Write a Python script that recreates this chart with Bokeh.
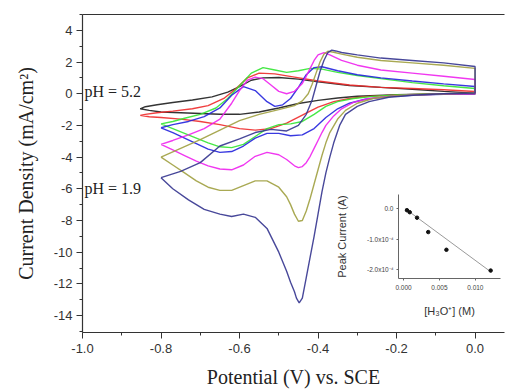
from bokeh.plotting import figure
from bokeh.models import Range1d, LinearAxis, FixedTicker, PrintfTickFormatter, CustomJSTickFormatter
from bokeh.layouts import column
from bokeh.embed import file_html
from bokeh.resources import INLINE
from bokeh.core.properties import value

# ---------------- data ----------------
# each cyclic voltammogram: lower branch (left -> right) then upper branch (right -> left)
black_v = [-0.853, -0.83, -0.80, -0.75, -0.70, -0.65, -0.60, -0.55, -0.50, -0.45, -0.40, -0.35, -0.30, -0.20, -0.10, 0.0,
           0.0, -0.08, -0.16, -0.24, -0.32, -0.40, -0.45, -0.50, -0.54, -0.57, -0.60, -0.63, -0.67, -0.72, -0.77, -0.81, -0.84, -0.853]
black_i = [-0.95, -1.05, -1.15, -1.2, -1.25, -1.3, -1.3, -1.15, -0.9, -0.62, -0.42, -0.27, -0.16, -0.06, -0.01, 0.0,
           0.04, 0.15, 0.28, 0.4, 0.52, 0.75, 0.92, 1.02, 1.0, 0.85, 0.45, 0.1, -0.2, -0.4, -0.55, -0.7, -0.82, -0.95]

red_v = [-0.853, -0.83, -0.80, -0.75, -0.70, -0.65, -0.60, -0.56, -0.52, -0.48, -0.44, -0.40, -0.36, -0.32, -0.28, -0.20, -0.10, 0.0,
         0.0, -0.08, -0.16, -0.24, -0.32, -0.40, -0.46, -0.51, -0.55, -0.58, -0.61, -0.64, -0.68, -0.72, -0.77, -0.81, -0.84, -0.853]
red_i = [-1.37, -1.45, -1.5, -1.6, -1.75, -1.95, -2.2, -2.3, -2.2, -1.85, -1.35, -0.85, -0.5, -0.3, -0.18, -0.07, -0.02, 0.0,
         0.14, 0.25, 0.33, 0.4, 0.55, 0.8, 1.05, 1.25, 1.3, 1.0, 0.3, -0.3, -0.75, -0.95, -1.1, -1.2, -1.3, -1.37]

green_v = [-0.80, -0.77, -0.74, -0.71, -0.68, -0.65, -0.62, -0.59, -0.56, -0.53, -0.50, -0.47, -0.44, -0.41, -0.38, -0.35, -0.31, -0.26, -0.20, -0.10, 0.0,
           0.0, -0.08, -0.16, -0.24, -0.30, -0.35, -0.39, -0.42, -0.45, -0.48, -0.51, -0.54, -0.57, -0.60, -0.63, -0.66, -0.70, -0.74, -0.77, -0.80]
green_i = [-1.9, -2.2, -2.5, -2.8, -3.1, -3.35, -3.4, -3.2, -2.7, -2.2, -1.95, -1.9, -1.75, -1.3, -0.8, -0.5, -0.3, -0.17, -0.08, -0.02, 0.0,
           0.33, 0.5, 0.7, 0.95, 1.15, 1.35, 1.55, 1.6, 1.45, 1.35, 1.5, 1.65, 1.3, 0.5, -0.3, -0.9, -1.3, -1.55, -1.75, -1.9]

blue_v = [-0.80, -0.77, -0.74, -0.71, -0.68, -0.65, -0.62, -0.59, -0.56, -0.53, -0.50, -0.47, -0.44, -0.41, -0.38, -0.35, -0.32, -0.28, -0.22, -0.15, -0.08, 0.0,
          0.0, -0.08, -0.16, -0.24, -0.30, -0.35, -0.39, -0.41, -0.43, -0.45, -0.47, -0.49, -0.51, -0.53, -0.56, -0.59, -0.62, -0.65, -0.69, -0.73, -0.77, -0.80]
blue_i = [-2.15, -2.45, -2.8, -3.15, -3.5, -3.7, -3.65, -3.3, -2.8, -2.5, -2.5, -2.65, -2.6, -2.2, -1.5, -0.95, -0.6, -0.35, -0.18, -0.08, -0.03, 0.0,
          0.46, 0.62, 0.8, 1.0, 1.2, 1.45, 1.7, 1.65, 1.2, 0.4, -0.3, -0.7, -0.8, -0.5, 0.2, 0.45, -0.1, -0.9, -1.45, -1.75, -1.95, -2.15]

magenta_v = [-0.80, -0.77, -0.74, -0.71, -0.68, -0.65, -0.62, -0.59, -0.56, -0.53, -0.50, -0.48, -0.46, -0.45, -0.44, -0.43, -0.42, -0.41, -0.40, -0.39, -0.38, -0.36, -0.34, -0.31, -0.27, -0.20, -0.10, 0.0,
             0.0, -0.08, -0.16, -0.24, -0.30, -0.34, -0.37, -0.385, -0.40, -0.41, -0.42, -0.43, -0.44, -0.46, -0.48, -0.50, -0.52, -0.54, -0.56, -0.58, -0.60, -0.62, -0.65, -0.69, -0.73, -0.77, -0.80]
magenta_i = [-3.2, -3.55, -3.9, -4.25, -4.55, -4.75, -4.8, -4.5, -3.95, -3.7, -3.85, -4.15, -4.55, -4.66, -4.6, -4.35, -3.95, -3.45, -2.95, -2.45, -2.0, -1.4, -0.95, -0.55, -0.3, -0.12, -0.03, 0.0,
             0.9, 1.1, 1.3, 1.5, 1.8, 2.1, 2.45, 2.6, 2.45, 2.1, 1.6, 1.1, 0.65, 0.15, 0.0, 0.15, 0.55, 0.95, 1.05, 0.85, 0.2, -0.6, -1.6, -2.2, -2.6, -2.95, -3.2]

olive_v = [-0.80, -0.77, -0.74, -0.71, -0.68, -0.65, -0.62, -0.59, -0.56, -0.53, -0.50, -0.48, -0.47, -0.46, -0.45, -0.44, -0.43, -0.42, -0.41, -0.40, -0.39, -0.38, -0.37, -0.35, -0.33, -0.30, -0.26, -0.20, -0.10, 0.0,
           0.0, -0.08, -0.16, -0.24, -0.30, -0.34, -0.36, -0.375, -0.385, -0.395, -0.405, -0.415, -0.425, -0.44, -0.46, -0.50, -0.55, -0.60, -0.65, -0.70, -0.75, -0.80]
olive_i = [-4.0, -4.5, -5.0, -5.5, -5.9, -6.1, -6.1, -5.8, -5.5, -5.5, -5.9, -6.5, -7.0, -7.6, -8.05, -8.0, -7.4, -6.6, -5.7, -4.8, -3.9, -3.1, -2.45, -1.6, -1.05, -0.6, -0.3, -0.12, -0.03, 0.05,
           1.6, 1.8, 1.95, 2.1, 2.3, 2.5, 2.62, 2.68, 2.5, 2.0, 1.3, 0.6, 0.0, -0.45, -0.75, -1.0, -1.3, -1.7, -2.3, -2.9, -3.45, -4.0]

navy_v = [-0.80, -0.77, -0.73, -0.69, -0.65, -0.62, -0.59, -0.56, -0.53, -0.50, -0.48, -0.47, -0.46, -0.455, -0.448, -0.44, -0.43, -0.42, -0.41, -0.40, -0.39, -0.38, -0.37, -0.36, -0.345, -0.33, -0.30, -0.27, -0.22, -0.15, -0.08, 0.0,
          0.0, -0.08, -0.16, -0.24, -0.30, -0.34, -0.355, -0.365, -0.375, -0.385, -0.395, -0.405, -0.415, -0.43, -0.45, -0.48, -0.52, -0.56, -0.60, -0.65, -0.70, -0.75, -0.80]
navy_i = [-5.3, -6.0, -6.7, -7.3, -7.6, -7.75, -7.6, -7.8, -8.5, -10.0, -11.2, -11.9, -12.5, -12.9, -13.2, -12.9, -11.6, -10.3, -9.0, -7.6, -6.2, -5.0, -4.0, -3.1, -2.0, -1.3, -0.8, -0.5, -0.22, -0.08, 0.0, 0.05,
          1.72, 1.95, 2.1, 2.25, 2.45, 2.6, 2.7, 2.75, 2.6, 2.1, 1.4, 0.5, -0.4, -1.3, -2.0, -2.35, -2.25, -2.45, -2.85, -3.3, -4.35, -4.9, -5.3]

curve_colors = ["#1e1e1e", "#ee2a2a", "#33e633", "#2424dd", "#ee22ee", "#a0a040", "#34348f"]

ph_labels = ["pH = 5.2", "pH = 1.9"]
ph_x = [-0.995, -0.995]
ph_y = [0.15, -6.0]

x_major = [-1.0, -0.8, -0.6, -0.4, -0.2, 0.0]
x_minor = [-0.9, -0.7, -0.5, -0.3, -0.1]
y_major = [4, 2, 0, -2, -4, -6, -8, -10, -12, -14]
y_minor = [5, 3, 1, -1, -3, -5, -7, -9, -11, -13, -15]

# inset: peak current vs hydronium concentration
h3o = [0.00048, 0.00086, 0.00188, 0.00344, 0.00597, 0.01213]
peak_current = [-0.055e-4, -0.12e-4, -0.30e-4, -0.77e-4, -1.35e-4, -2.03e-4]
fit_x = [0.0002, 0.0122]
fit_y = [0.0, -2.08e-4]
inset_x_ticks = [0.0, 0.005, 0.010]
inset_y_ticks = [0.0, -1.0e-4, -2.0e-4]

# ---------------- main figure ----------------
SERIF = "Liberation Serif"
SANS = "Liberation Sans"

p = figure(width=506, height=390, x_range=Range1d(-1.0, 0.075), y_range=Range1d(-15.07, 5.0),
           output_backend="svg", toolbar_location=None,
           min_border_left=82, min_border_right=0, min_border_top=14, min_border_bottom=58)
p.xgrid.visible = False
p.ygrid.visible = False
p.outline_line_color = None
p.background_fill_color = "white"
p.border_fill_color = "white"

curves = [(black_v, black_i), (red_v, red_i), (green_v, green_i), (blue_v, blue_i),
          (magenta_v, magenta_i), (olive_v, olive_i), (navy_v, navy_i)]
for (vv, ii), col in zip(curves, curve_colors):
    p.line(vv, ii, line_color=col, line_width=1.4, line_alpha=0.9)

p.text(x=ph_x, y=ph_y, text=ph_labels, text_font=value(SERIF), text_font_size="16px",
       text_baseline="middle", text_align="left", text_color="#222222")

for ax in (p.xaxis[0], p.yaxis[0]):
    ax.axis_line_color = "#333333"
    ax.axis_line_width = 1.2
    ax.major_tick_line_color = "#333333"
    ax.minor_tick_line_color = "#333333"
    ax.major_tick_out = 6
    ax.major_tick_in = 0
    ax.minor_tick_out = 3
    ax.minor_tick_in = 0
    ax.major_label_text_font = SANS
    ax.major_label_text_font_size = "13px"
    ax.major_label_text_color = "#333333"
    ax.axis_label_text_font = SERIF
    ax.axis_label_text_font_size = "20px"
    ax.axis_label_text_font_style = "normal"
    ax.axis_label_text_color = "#222222"

p.xaxis[0].ticker = FixedTicker(ticks=x_major, minor_ticks=x_minor)
p.xaxis[0].formatter = PrintfTickFormatter(format="%.1f")
p.xaxis[0].axis_label = "Potential (V) vs. SCE"
p.xaxis[0].major_label_standoff = 5
p.xaxis[0].axis_label_standoff = 10

p.yaxis[0].ticker = FixedTicker(ticks=y_major, minor_ticks=y_minor)
p.yaxis[0].formatter = PrintfTickFormatter(format="%d")
p.yaxis[0].axis_label = "Current Density (mA/cm²)"
p.yaxis[0].major_label_standoff = 4
p.yaxis[0].axis_label_standoff = 14

top_axis = LinearAxis(ticker=FixedTicker(ticks=[]), major_tick_out=0, major_tick_in=0,
                      minor_tick_out=0, minor_tick_in=0, major_label_text_font_size="0px",
                      major_label_standoff=0, axis_line_color="#333333", axis_line_width=1.2)
p.add_layout(top_axis, "above")

# ---------------- inset ----------------
inset = figure(width=186, height=129, x_range=Range1d(-0.0007, 0.0135), y_range=Range1d(-2.29e-4, 0.46e-4),
               output_backend="svg", toolbar_location=None,
               min_border_left=72, min_border_right=2, min_border_top=4, min_border_bottom=40)
inset.xgrid.visible = False
inset.ygrid.visible = False
inset.outline_line_color = None
inset.background_fill_alpha = 0
inset.border_fill_alpha = 0

inset.line(fit_x, fit_y, line_color="#9a9a9a", line_width=1)
inset.scatter(h3o, peak_current, size=3.5, color="#111111")

for ax in (inset.xaxis[0], inset.yaxis[0]):
    ax.axis_line_color = "#666666"
    ax.major_tick_line_color = "#666666"
    ax.minor_tick_line_color = None
    ax.major_tick_out = 2
    ax.major_tick_in = 0
    ax.major_label_text_font = SANS
    ax.major_label_text_font_size = "6.5px"
    ax.major_label_text_color = "#444444"
    ax.axis_label_text_font = SANS
    ax.axis_label_text_font_size = "11px"
    ax.axis_label_text_font_style = "normal"
    ax.axis_label_text_color = "#333333"

inset.xaxis[0].ticker = FixedTicker(ticks=inset_x_ticks)
inset.xaxis[0].formatter = PrintfTickFormatter(format="%.3f")
inset.xaxis[0].axis_label = "[H₃O⁺] (M)"
inset.xaxis[0].major_label_standoff = 4
inset.xaxis[0].axis_label_standoff = 12

inset.yaxis[0].ticker = FixedTicker(ticks=inset_y_ticks)
inset.yaxis[0].formatter = CustomJSTickFormatter(
    code="if (Math.abs(tick) < 1e-12) { return '0.0'; } return (tick*1e4).toFixed(1) + 'x10\u207b\u2074';")
inset.yaxis[0].axis_label = "Peak Current (A)"
inset.yaxis[0].major_label_standoff = 3
inset.yaxis[0].axis_label_standoff = 16

inset.margin = (-200, 0, 0, 316)

layout = column(p, inset)
open("out.html", "w").write(file_html(layout, INLINE))
